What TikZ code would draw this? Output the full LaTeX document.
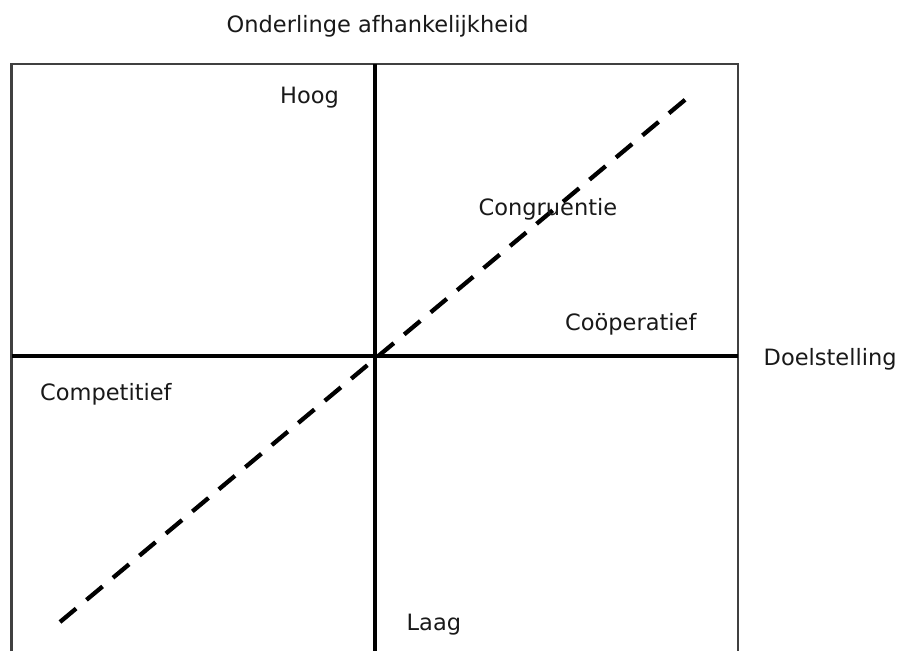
\documentclass[tikz,border=0pt]{standalone}
\usepackage{fontspec}
\setmainfont{DejaVu Sans}
\tikzset{
  frameline/.style={draw=black!75, line width=2.2pt},
  axisline/.style={draw=black, line width=4.5pt},
  diagline/.style={draw=black, line width=4.3pt, dash pattern=on 21pt off 13.5pt},
  lbl/.style={inner sep=0pt, anchor=base west, font=\fontsize{22.5}{27}\selectfont, text=black!90}
}
\begin{document}
\begin{tikzpicture}[x=1pt,y=-1pt]
\useasboundingbox (0,0) rectangle (900,651);
% frame corners
\coordinate (bl) at (11.5,651);
\coordinate (tl) at (11.5,64);
\coordinate (tr) at (738,64);
\coordinate (br) at (738,651);
% axis ends
\coordinate (vtop) at (375,64);
\coordinate (vbot) at (375,651);
\coordinate (hleft) at (11.5,356);
\coordinate (hright) at (738,356);
% diagonal ends
\coordinate (dstart) at (60,622);
\coordinate (dend) at (686,99);

\draw[frameline] (bl) -- (tl) -- (tr) -- (br);
\draw[axisline] (vtop) -- (vbot);
\draw[axisline] (hleft) -- (hright);
\draw[diagline] (dstart) -- (dend);

\node[lbl] (title) at (226.5,32) {Onderlinge afhankelijkheid};
\node[lbl] (hoog) at (280,103.5) {Hoog};
\node[lbl] (congr) at (478.5,215) {Congruentie};
\node[lbl] (coop) at (565,330) {Coöperatief};
\node[lbl] (doel) at (763.5,365) {Doelstelling};
\node[lbl] (comp) at (40,400) {Competitief};
\node[lbl] (laag) at (406.5,630) {Laag};
\end{tikzpicture}
\end{document}
